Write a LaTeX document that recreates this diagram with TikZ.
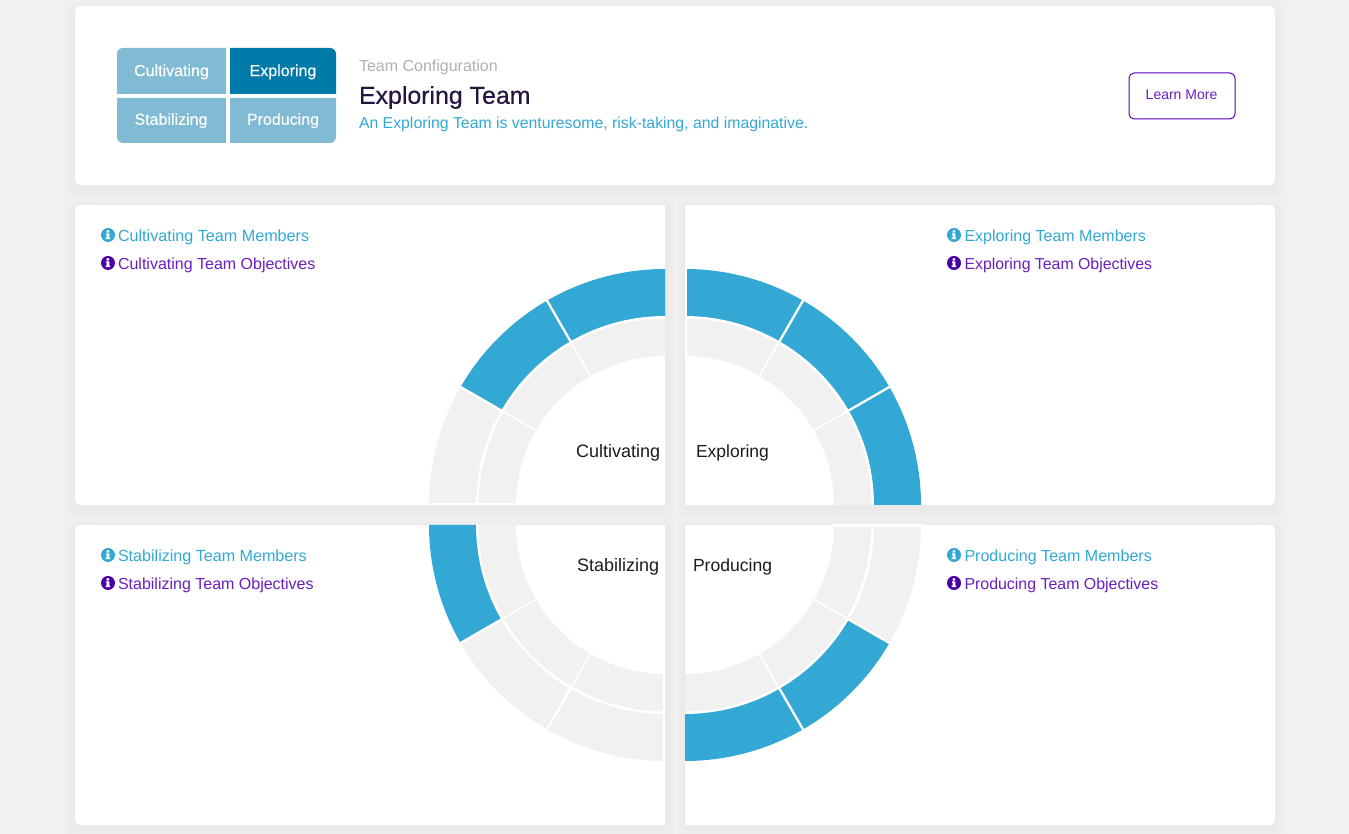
\documentclass[tikz,border=0pt]{standalone}
\usepackage{fontspec}
\setmainfont{Liberation Sans}
\newfontfamily\titlefont[FakeStretch=1.02,FakeBold=0.35]{Liberation Sans}
\newfontfamily\cellfont[FakeBold=0.25]{Liberation Sans}
\definecolor{pagebg}{HTML}{F1F1F1}
\definecolor{ringblue}{HTML}{33A8D5}
\definecolor{ringgray}{HTML}{F1F1F1}
\definecolor{cellpale}{HTML}{80BAD3}
\definecolor{celldark}{HTML}{007AA8}
\definecolor{titleink}{HTML}{24163F}
\definecolor{capgray}{HTML}{B0B0B0}
\definecolor{linkblue}{HTML}{33A8D5}
\definecolor{linkpurple}{HTML}{6A1FBF}
\definecolor{iconpurple}{HTML}{4B00A8}
\definecolor{btnpurple}{HTML}{5200B5}
\definecolor{labelink}{HTML}{1C1C1C}
\newcommand{\fsz}[1]{\fontsize{#1}{#1}\selectfont}
% shadow layer: l t r b
\newcommand{\shadowlayer}[4]{%
  \fill[rounded corners=6pt]
      ({#1-\k},{834-(#4)-\k-4}) rectangle ({#3+\k},{834-(#2)+\k-4});}
% segment: cx cy a1 a2 r1 r2 colour
\newcommand{\seg}[7]{%
  \fill[#7] ({#1+#5*cos(#3)},{834-#2+#5*sin(#3)})
     arc[start angle=#3,end angle=#4,radius=#5]
     -- ({#1+#6*cos(#4)},{834-#2+#6*sin(#4)})
     arc[start angle=#4,end angle=#3,radius=#6] -- cycle;}
% quadrant: cx cy base-angle gap-angle colours c1 c2 c3 (ccw from base)
\newcommand{\quadrant}[7]{%
  \seg{#1}{#2}{#3}{#3+30}{149}{187.7}{ringgray}
  \seg{#1}{#2}{#3+30}{#3+60}{149}{187.7}{ringgray}
  \seg{#1}{#2}{#3+60}{#3+90}{149}{187.7}{ringgray}
  \seg{#1}{#2}{#3}{#3+30}{187.7}{236}{#5}
  \seg{#1}{#2}{#3+30}{#3+60}{187.7}{236}{#6}
  \seg{#1}{#2}{#3+60}{#3+90}{187.7}{236}{#7}
  \draw[white,line width=2.5pt] (#1,{834-#2}) circle[radius=187.7];
  \foreach \a in {30,60}{%
    \draw[white,line width=1.6pt] ({#1+148*cos(#3+\a)},{834-#2+148*sin(#3+\a)}) -- ({#1+187.7*cos(#3+\a)},{834-#2+187.7*sin(#3+\a)});
    \draw[white,line width=2.3pt] ({#1+187.7*cos(#3+\a)},{834-#2+187.7*sin(#3+\a)}) -- ({#1+237*cos(#3+\a)},{834-#2+237*sin(#3+\a)});
  }
  \draw[white,line width=3.6pt] ({#1+147*cos(#4)},{834-#2+147*sin(#4)}) -- ({#1+238*cos(#4)},{834-#2+238*sin(#4)});
}
\newcommand{\infoicon}[3]{%
  \fill[#3] (#1,{834-#2}) circle[radius=7];
  \fill[white] ({#1-0.1},{834-#2+3.6}) circle[radius=1.55];
  \fill[white] ({#1-1.9},{834-#2+1.5}) -- ++(3.2,0) -- ++(0,-4.2) -- ++(0.9,0) -- ++(0,-1.5) -- ++(-4.6,0) -- ++(0,1.5) -- ++(0.9,0) -- ++(0,2.8) -- ++(-0.4,0) -- cycle;
}
\tikzset{
  txt/.style={inner sep=0pt,outer sep=0pt,anchor=base west},
  ctxt/.style={inner sep=0pt,outer sep=0pt,anchor=base},
  celltxt/.style={ctxt,text=white,font=\cellfont\fsz{16}},
  ringtxt/.style={txt,text=labelink},
  bluelink/.style={txt,text=linkblue},
  purplelink/.style={txt,text=linkpurple},
}
\begin{document}
\begin{tikzpicture}[x=1pt,y=1pt]
\useasboundingbox (0,0) rectangle (1349,834);
\fill[pagebg] (0,0) rectangle (1349,834);
% shadows: opaque bands, outermost first
\foreach \k in {15,14,...,1}{%
  \pgfmathsetmacro{\sh}{3.8*(1-\k/16)*(1-\k/16)}
  \begin{scope}[black!\sh!pagebg]
  \shadowlayer{75}{6}{1275}{185}
  \shadowlayer{75}{205}{665}{505}
  \shadowlayer{685}{205}{1275}{505}
  \shadowlayer{75}{525}{665}{825}
  \shadowlayer{685}{525}{1275}{825}
  \end{scope}
}
% header card
\fill[white,rounded corners=5pt] (75,{834-185}) rectangle (1275,{834-6});
% quadrant cards
\fill[white,rounded corners=5pt] (75,{834-505}) rectangle (100,{834-205});
\fill[white] (90,{834-505}) rectangle (665,{834-205});
\fill[white,rounded corners=5pt] (1250,{834-505}) rectangle (1275,{834-205});
\fill[white] (685,{834-505}) rectangle (1260,{834-205});
\fill[white,rounded corners=5pt] (75,{834-825}) rectangle (100,{834-525});
\fill[white] (90,{834-825}) rectangle (665,{834-525});
\fill[white,rounded corners=5pt] (1250,{834-825}) rectangle (1275,{834-525});
\fill[white] (685,{834-825}) rectangle (1260,{834-525});
% rings
\begin{scope}
\clip (425,{834-505}) rectangle (665,{834-205});
\quadrant{665}{505}{90}{180}{ringblue}{ringblue}{ringgray}
\end{scope}
\begin{scope}
\clip (685,{834-505}) rectangle (925,{834-205});
\quadrant{685}{505}{0}{90}{ringblue}{ringblue}{ringblue}
\end{scope}
\begin{scope}
\clip (425,{834-825}) rectangle (665,{834-525});
\quadrant{665}{525}{180}{270}{ringblue}{ringgray}{ringgray}
\end{scope}
\begin{scope}
\clip (685,{834-825}) rectangle (925,{834-525});
\quadrant{685}{525}{270}{360}{ringblue}{ringblue}{ringgray}
\end{scope}
% grid
\fill[cellpale] (117,{834-94}) -- (117,{834-54}) arc[start angle=180,end angle=90,radius=6] -- (226,{834-48}) -- (226,{834-94}) -- cycle;
\fill[celldark] (230,{834-94}) -- (230,{834-48}) -- (330,{834-48}) arc[start angle=90,end angle=0,radius=6] -- (336,{834-94}) -- cycle;
\fill[cellpale] (117,{834-98}) -- (226,{834-98}) -- (226,{834-143}) -- (123,{834-143}) arc[start angle=270,end angle=180,radius=6] -- cycle;
\fill[cellpale] (230,{834-98}) -- (336,{834-98}) -- (336,{834-137}) arc[start angle=0,end angle=-90,radius=6] -- (230,{834-143}) -- cycle;
\node[celltxt] (c1) at (171.5,{834-76.1}) {Cultivating};
\node[celltxt] (c2) at (283,{834-76.1}) {Exploring};
\node[celltxt] (c3) at (171,{834-124.8}) {Stabilizing};
\node[celltxt] (c4) at (283,{834-124.8}) {Producing};
% header texts
\node[txt,text=capgray,font=\fsz{16}] (cap) at (359,{834-71.8}) {Team Configuration};
\node[txt,text=titleink,font=\titlefont\fsz{24.4}] (title) at (359,{834-103.8}) {Exploring Team};
\node[txt,text=linkblue,font=\fsz{15.82}] (sub) at (359,{834-128.8}) {An Exploring Team is venturesome, risk-taking, and imaginative.};
\draw[btnpurple,line width=1pt,rounded corners=5pt] (1129,{834-119}) rectangle (1235,{834-73});
\node[ctxt,text=linkpurple,font=\fsz{14}] (btn) at (1181.5,{834-100}) {Learn More};
% links
\infoicon{108}{235}{linkblue}
\node[bluelink,font=\fsz{16.15}] (l1) at (118,{834-241.7}) {Cultivating Team Members};
\infoicon{108}{263}{iconpurple}
\node[purplelink,font=\fsz{16}] (l2) at (118,{834-269.7}) {Cultivating Team Objectives};
\infoicon{954}{235}{linkblue}
\node[bluelink,font=\fsz{16}] (l3) at (964.5,{834-241.7}) {Exploring Team Members};
\infoicon{954}{263}{iconpurple}
\node[purplelink,font=\fsz{15.85}] (l4) at (964.5,{834-269.7}) {Exploring Team Objectives};
\infoicon{108}{555}{linkblue}
\node[bluelink,font=\fsz{16.1}] (l5) at (118,{834-561.7}) {Stabilizing Team Members};
\infoicon{108}{583}{iconpurple}
\node[purplelink,font=\fsz{16}] (l6) at (118,{834-589.7}) {Stabilizing Team Objectives};
\infoicon{954}{555}{linkblue}
\node[bluelink,font=\fsz{16.05}] (l7) at (964.5,{834-561.7}) {Producing Team Members};
\infoicon{954}{583}{iconpurple}
\node[purplelink,font=\fsz{15.92}] (l8) at (964.5,{834-589.7}) {Producing Team Objectives};
% ring labels
\node[ringtxt,font=\fsz{18}] (r1) at (576,{834-457.8}) {Cultivating};
\node[ringtxt,font=\fsz{17.5}] (r2) at (696,{834-457.8}) {Exploring};
\node[ringtxt,font=\fsz{18}] (r3) at (577,{834-571.8}) {Stabilizing};
\node[ringtxt,font=\fsz{17.55}] (r4) at (693,{834-571.8}) {Producing};
\end{tikzpicture}
\end{document}
